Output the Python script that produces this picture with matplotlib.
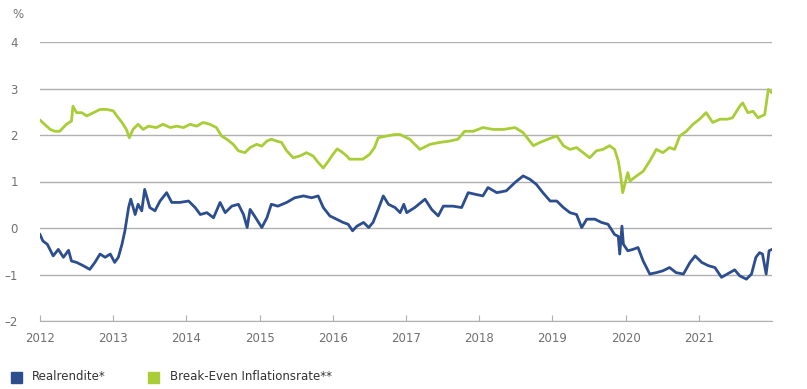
import matplotlib
matplotlib.use("Agg")
import matplotlib.pyplot as plt
from matplotlib.patches import Rectangle

# Break-Even Inflationsrate (green)
bei_t = [2012.0, 2012.14, 2012.2, 2012.27, 2012.36, 2012.43, 2012.45, 2012.5, 2012.57,
         2012.64, 2012.73, 2012.82, 2012.91, 2013.0, 2013.05, 2013.12, 2013.18, 2013.22,
         2013.27, 2013.34, 2013.41, 2013.48, 2013.59, 2013.68, 2013.78, 2013.87, 2013.96,
         2014.05, 2014.14, 2014.23, 2014.32, 2014.41, 2014.48, 2014.55, 2014.64, 2014.71,
         2014.80, 2014.87, 2014.96, 2015.03, 2015.10, 2015.16, 2015.23, 2015.30, 2015.37,
         2015.46, 2015.55, 2015.64, 2015.73, 2015.80, 2015.87, 2015.94, 2016.0, 2016.06,
         2016.12, 2016.19, 2016.23, 2016.32, 2016.41, 2016.5, 2016.57, 2016.62, 2016.74,
         2016.85, 2016.92, 2017.05, 2017.19, 2017.33, 2017.46, 2017.6, 2017.71, 2017.80,
         2017.92, 2018.05, 2018.19, 2018.33, 2018.49, 2018.6, 2018.67, 2018.74, 2018.83,
         2018.94, 2019.06, 2019.15, 2019.24, 2019.33, 2019.42, 2019.51, 2019.6, 2019.69,
         2019.78, 2019.85, 2019.9, 2019.93, 2019.96, 2019.99, 2020.03, 2020.06, 2020.15,
         2020.24, 2020.33, 2020.42, 2020.51, 2020.6, 2020.67, 2020.74, 2020.83, 2020.92,
         2021.01, 2021.1, 2021.19, 2021.29, 2021.39, 2021.46, 2021.56, 2021.6, 2021.67,
         2021.74, 2021.81, 2021.9, 2021.95, 2022.0]
bei_v = [2.32, 2.12, 2.08, 2.08, 2.23, 2.30, 2.62, 2.48, 2.48,
         2.41, 2.48, 2.55, 2.55, 2.52, 2.41, 2.27, 2.12, 1.94,
         2.12, 2.23, 2.12, 2.19, 2.16, 2.23, 2.16, 2.19, 2.16,
         2.23, 2.19, 2.27, 2.23, 2.16, 1.98, 1.91, 1.80, 1.66,
         1.62, 1.73, 1.80, 1.76, 1.87, 1.91, 1.87, 1.84, 1.66,
         1.51, 1.55, 1.62, 1.55, 1.41, 1.29, 1.44, 1.58, 1.70,
         1.64, 1.55, 1.48, 1.48, 1.48, 1.58, 1.73, 1.94, 1.98,
         2.01, 2.01, 1.91, 1.69, 1.80, 1.84, 1.87, 1.91, 2.08,
         2.08, 2.16, 2.12, 2.12, 2.16, 2.05, 1.91, 1.77, 1.84,
         1.91, 1.98, 1.77, 1.69, 1.73, 1.62, 1.51, 1.66, 1.69,
         1.77, 1.69, 1.44, 1.15, 0.76, 0.94, 1.19, 1.01, 1.12,
         1.22, 1.44, 1.69, 1.62, 1.73, 1.69, 1.98, 2.08, 2.23,
         2.34, 2.48, 2.27, 2.34, 2.34, 2.37, 2.62, 2.69, 2.48,
         2.51, 2.37, 2.44, 2.98, 2.91]

# Realrendite (blue)
real_t = [2012.0, 2012.04, 2012.1, 2012.18, 2012.25, 2012.32, 2012.39, 2012.43, 2012.5,
          2012.59, 2012.68, 2012.75, 2012.82, 2012.89, 2012.96, 2013.02, 2013.07, 2013.12,
          2013.16, 2013.21, 2013.24, 2013.30, 2013.34, 2013.39, 2013.43, 2013.5, 2013.57,
          2013.64, 2013.73, 2013.8, 2013.91, 2014.03, 2014.12, 2014.19, 2014.28, 2014.37,
          2014.46, 2014.53, 2014.62, 2014.71, 2014.78, 2014.83, 2014.87, 2014.93, 2015.03,
          2015.10, 2015.16, 2015.25, 2015.37, 2015.48, 2015.6, 2015.71, 2015.80, 2015.87,
          2015.96, 2016.05, 2016.14, 2016.21, 2016.27, 2016.33, 2016.42, 2016.49, 2016.55,
          2016.62, 2016.69, 2016.76, 2016.85, 2016.92, 2016.97, 2017.01, 2017.12, 2017.26,
          2017.35, 2017.44, 2017.51, 2017.64, 2017.76, 2017.85, 2017.96, 2018.05, 2018.12,
          2018.24, 2018.37, 2018.49, 2018.6, 2018.69, 2018.78, 2018.87, 2018.97, 2019.06,
          2019.15, 2019.24, 2019.33, 2019.40, 2019.47, 2019.58, 2019.67, 2019.76, 2019.85,
          2019.9, 2019.92, 2019.95, 2019.97, 2020.03, 2020.10, 2020.17, 2020.24, 2020.33,
          2020.42, 2020.51, 2020.6, 2020.69, 2020.79, 2020.88, 2020.95, 2021.04, 2021.13,
          2021.22, 2021.31, 2021.39, 2021.49, 2021.56, 2021.65, 2021.72, 2021.78, 2021.83,
          2021.87, 2021.92, 2021.96, 2022.0]
real_v = [-0.14, -0.28, -0.35, -0.60, -0.46, -0.63, -0.48, -0.71, -0.74,
          -0.81, -0.89, -0.74, -0.56, -0.63, -0.56, -0.74, -0.63, -0.35,
          -0.06, 0.44, 0.62, 0.29, 0.51, 0.37, 0.83, 0.44, 0.37,
          0.58, 0.76, 0.55, 0.55, 0.58, 0.44, 0.29, 0.33, 0.22,
          0.55, 0.33, 0.47, 0.51, 0.29, 0.01, 0.40, 0.26, 0.01,
          0.22, 0.51, 0.47, 0.55, 0.65, 0.69, 0.65, 0.69, 0.44,
          0.26, 0.19, 0.12, 0.08, -0.06, 0.04, 0.12, 0.01, 0.12,
          0.40, 0.69, 0.51, 0.44, 0.33, 0.51, 0.33, 0.44, 0.62,
          0.40, 0.26, 0.47, 0.47, 0.44, 0.76, 0.72, 0.69, 0.87,
          0.76, 0.80, 0.98, 1.12, 1.05, 0.94, 0.76, 0.58, 0.58,
          0.44, 0.33, 0.29, 0.01, 0.19, 0.19, 0.12, 0.08, -0.14,
          -0.18, -0.56, 0.04, -0.35, -0.49, -0.46, -0.42, -0.71, -0.99,
          -0.96, -0.92, -0.85, -0.96, -0.99, -0.74, -0.60, -0.74, -0.81,
          -0.85, -1.06, -0.99, -0.90, -1.03, -1.10, -0.99, -0.63, -0.53,
          -0.56, -0.99, -0.49, -0.46]

years = list(range(2012, 2022))
yticks = [-2, -1, 0, 1, 2, 3, 4]

blue = "#2d4e8e"
green = "#a9cd36"
grey_txt = "#707070"

fig = plt.figure(figsize=(8.07, 3.89), dpi=100)
ax = fig.add_axes([40 / 807, 68 / 389, 732 / 807, 279 / 389])

ax.plot(real_t, real_v, color=blue, lw=2.0, zorder=3)
ax.plot(bei_t, bei_v, color=green, lw=2.0, zorder=3)

ax.set_xlim(2012, 2022)
ax.set_ylim(-2, 4)
ax.set_yticks(yticks)
ax.set_yticklabels([str(v).replace("-", "\u2013") for v in yticks])
ax.set_xticks(years)
ax.set_xticklabels([str(y) for y in years])
ax.grid(axis="y", color="#b0b0b0", lw=1)
ax.set_axisbelow(True)
for s in ["top", "right", "left"]:
    ax.spines[s].set_visible(False)
ax.spines["bottom"].set_color("#b0b0b0")
ax.tick_params(axis="x", direction="in", length=4, color="#b0b0b0",
               labelcolor=grey_txt, labelsize=8.5, pad=8)
ax.tick_params(axis="y", length=0, labelcolor=grey_txt, labelsize=8.5, pad=16)

fig.text(12 / 807, 1 - 14 / 389, "%", color=grey_txt, fontsize=8.5, va="center")

# legend
fig.patches.append(Rectangle((11 / 807, 1 - 383 / 389), 11 / 807, 11 / 389,
                             transform=fig.transFigure, color=blue))
fig.text(32 / 807, 1 - 377 / 389, "Realrendite*", color="#333333", fontsize=8.5, va="center")
fig.patches.append(Rectangle((148 / 807, 1 - 383 / 389), 11 / 807, 11 / 389,
                             transform=fig.transFigure, color=green))
fig.text(170 / 807, 1 - 377 / 389, "Break-Even Inflationsrate**", color="#333333",
         fontsize=8.5, va="center")

fig.savefig("out.png", dpi=100)
